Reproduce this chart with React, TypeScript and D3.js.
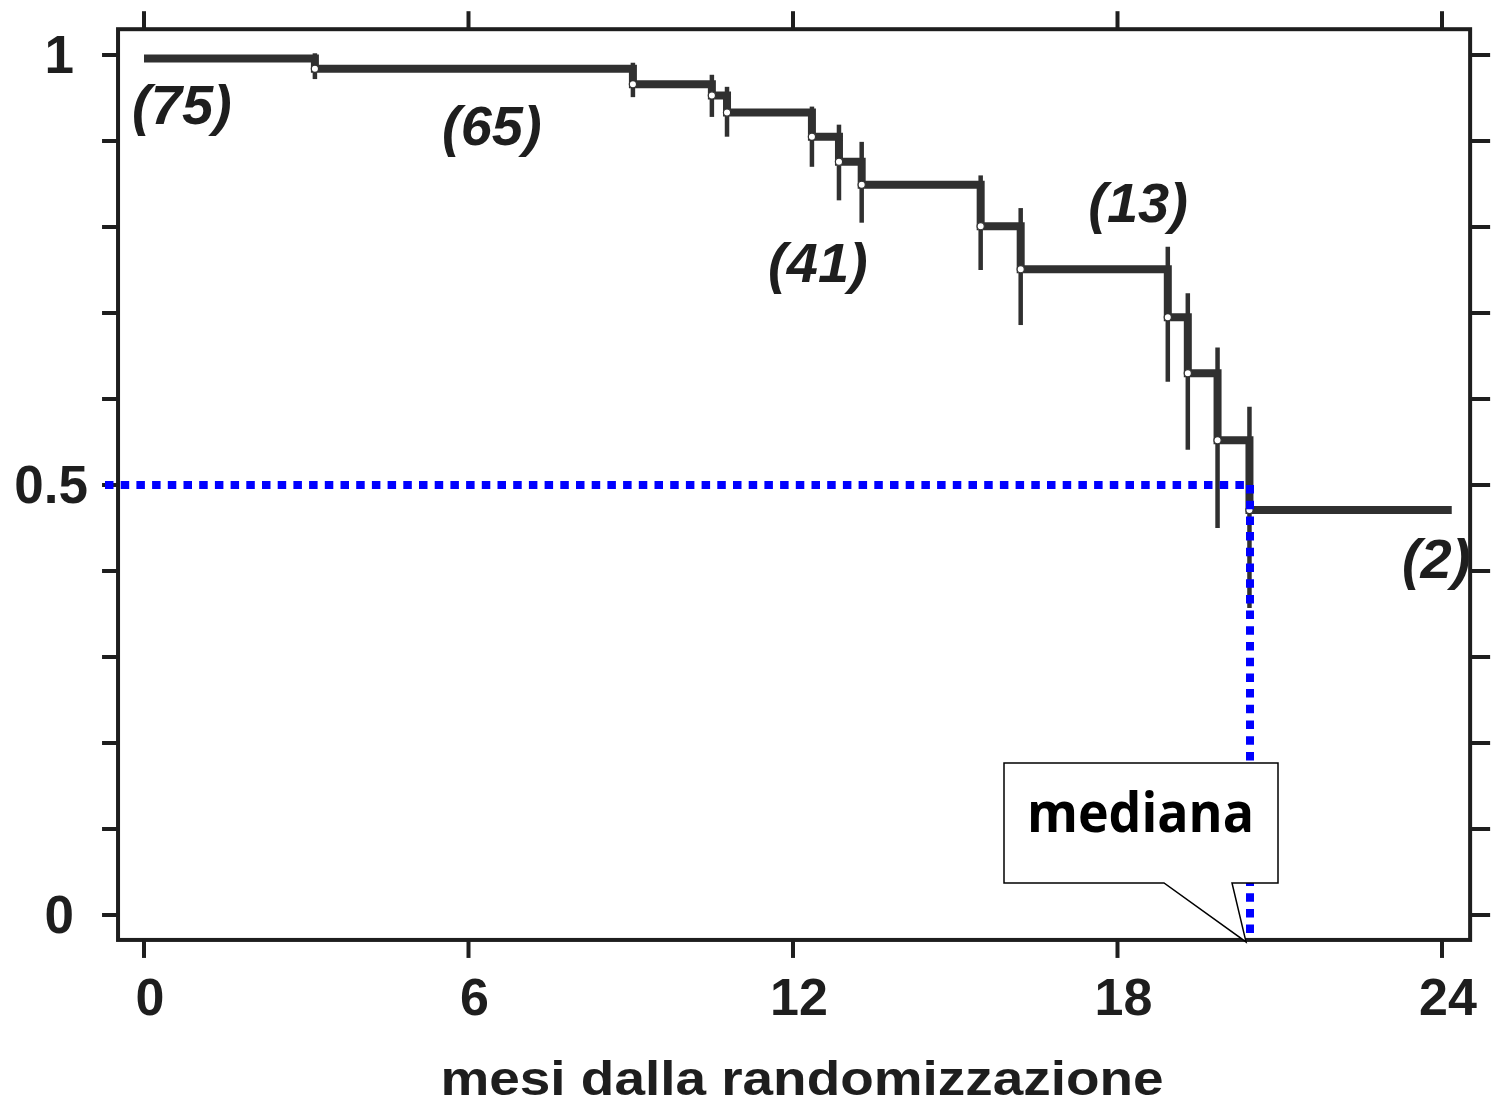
import React from "react";
import * as d3 from "d3";

// ---- data ----
const xTicks = [0, 6, 12, 18, 24];
const yTicksMajor = [0, 0.5, 1];
const yTickLabels = ["0", "0.5", "1"];
const yTicksMinor = [0, 0.1, 0.2, 0.3, 0.4, 0.5, 0.6, 0.7, 0.8, 0.9, 1];

const eventTimes = [3.16, 9.04, 10.5, 10.78, 12.35, 12.85, 13.27, 15.47, 16.21, 18.93, 19.3, 19.85, 20.44];
const survival = [0.984, 0.966, 0.953, 0.933, 0.905, 0.876, 0.849, 0.801, 0.751, 0.695, 0.63, 0.552, 0.471];
const upperBar = [1.002, 0.991, 0.977, 0.963, 0.94, 0.919, 0.899, 0.86, 0.822, 0.777, 0.723, 0.66, 0.591];
const lowerBar = [0.972, 0.951, 0.928, 0.905, 0.87, 0.831, 0.805, 0.75, 0.686, 0.62, 0.541, 0.45, 0.357];
const startSurvival = 0.996;
const followUpEnd = 24.18;

const riskLabels = ["(75)", "(65)", "(41)", "(13)", "(2)"];
const riskTimes = [-0.22, 5.51, 11.54, 17.46, 23.26];
const riskLevels = [0.92, 0.895, 0.736, 0.806, 0.392];

const medianSurvival = 0.5;
const medianTime = 20.45;

const xTitle = "mesi dalla randomizzazione";
const calloutText = "mediana";

export default function App() {
  const W = 1497;
  const H = 1104;
  const x = d3.scaleLinear().domain([0, 24]).range([144, 1442]);
  const y = d3.scaleLinear().domain([0, 1]).range([915, 55]);

  const frameL = x(-0.48);
  const frameR = x(24.52);
  const frameT = y(1.03);
  const frameB = y(-0.029);

  const pts: [number, number][] = [[0, startSurvival]];
  eventTimes.forEach((t, i) => pts.push([t, survival[i]]));
  pts.push([followUpEnd, survival[survival.length - 1]]);
  const line = d3
    .line<[number, number]>()
    .x((d) => x(d[0]))
    .y((d) => y(d[1]))
    .curve(d3.curveStepAfter);

  const axisColor = "#1e1e1e";
  const curveColor = "#303030";
  const axisFont = "'Liberation Sans', Arial, Helvetica, sans-serif";

  // callout geometry
  const boxL = 1004, boxR = 1278, boxT = 763, boxB = 883;
  const tipX = x(medianTime) - 4;
  const tipY = frameB + 2;
  const callout = `M${boxL},${boxT} L${boxR},${boxT} L${boxR},${boxB} L${1232},${boxB} L${tipX},${tipY} L${1164},${boxB} L${boxL},${boxB} Z`;

  return (
    <svg
      width={W}
      height={H}
      style={{ position: "absolute", left: 0, top: 0, background: "#fff" }}
    >
      <rect x={0} y={0} width={W} height={H} fill="#fff" />
      {/* frame */}
      <rect
        x={frameL}
        y={frameT}
        width={frameR - frameL}
        height={frameB - frameT}
        fill="none"
        stroke={axisColor}
        strokeWidth={4}
      />
      {/* x ticks top/bottom */}
      {xTicks.map((t) => (
        <g key={"xt" + t}>
          <line x1={x(t)} x2={x(t)} y1={frameT} y2={frameT - 18} stroke={axisColor} strokeWidth={4} />
          <line x1={x(t)} x2={x(t)} y1={frameB} y2={frameB + 18} stroke={axisColor} strokeWidth={4} />
          <text
            x={x(t) + 6}
            y={1015}
            textAnchor="middle"
            fontFamily={axisFont}
            fontWeight="bold"
            fontSize={52}
            fill={axisColor}
          >
            {t}
          </text>
        </g>
      ))}
      {/* y ticks left/right */}
      {yTicksMinor.map((v) => (
        <g key={"yt" + v}>
          <line x1={frameL} x2={frameL - 16} y1={y(v)} y2={y(v)} stroke={axisColor} strokeWidth={4} />
          <line x1={frameR} x2={frameR + 20} y1={y(v)} y2={y(v)} stroke={axisColor} strokeWidth={4} />
        </g>
      ))}
      {yTicksMajor.map((v, i) => (
        <text
          key={"yl" + v}
          x={v === 0.5 ? 88 : 74}
          y={y(v) + 18}
          textAnchor="end"
          fontFamily={axisFont}
          fontWeight="bold"
          fontSize={53}
          fill={axisColor}
        >
          {yTickLabels[i]}
        </text>
      ))}
      {/* x title */}
      <text
        x={802}
        y={1095}
        textAnchor="middle"
        fontFamily={axisFont}
        fontWeight="bold"
        fontSize={48}
        fill={axisColor}
        textLength={723}
        lengthAdjust="spacingAndGlyphs"
      >
        {xTitle}
      </text>

      {/* confidence bars */}
      {eventTimes.map((t, i) => (
        <line
          key={"bar" + i}
          x1={x(t)}
          x2={x(t)}
          y1={y(upperBar[i])}
          y2={y(lowerBar[i])}
          stroke={curveColor}
          strokeWidth={4.5}
        />
      ))}
      {/* KM curve */}
      <path d={line(pts) || ""} fill="none" stroke={curveColor} strokeWidth={8} strokeLinejoin="miter" />
      {/* event circles */}
      {eventTimes.map((t, i) => (
        <circle
          key={"c" + i}
          cx={x(t)}
          cy={y(survival[i])}
          r={3.6}
          fill="#fff"
          stroke={curveColor}
          strokeWidth={1.2}
        />
      ))}
      {/* number at risk */}
      {riskLabels.map((s, i) => (
        <text
          key={"r" + i}
          x={x(riskTimes[i])}
          y={y(riskLevels[i])}
          fontFamily={axisFont}
          fontWeight="bold"
          fontStyle="italic"
          fontSize={56}
          fill={axisColor}
        >
          {s}
        </text>
      ))}

      {/* median dotted lines */}
      <line
        x1={105}
        x2={x(medianTime)}
        y1={y(medianSurvival)}
        y2={y(medianSurvival)}
        stroke="#0000ff"
        strokeWidth={8}
        strokeDasharray="8.5 7.2"
      />
      <line
        x1={x(medianTime)}
        x2={x(medianTime)}
        y1={y(medianSurvival)}
        y2={frameB}
        stroke="#0000ff"
        strokeWidth={8}
        strokeDasharray="8.5 7.2"
      />
      {/* callout */}
      <path d={callout} fill="#fff" stroke="#000" strokeWidth={1.5} />
      <text
        x={1027}
        y={832}
        fontFamily="'Open Sans', 'Noto Sans', sans-serif"
        fontWeight="bold"
        fontSize={56}
        fill="#000"
        textLength={227}
        lengthAdjust="spacingAndGlyphs"
      >
        {calloutText}
      </text>
    </svg>
  );
}
